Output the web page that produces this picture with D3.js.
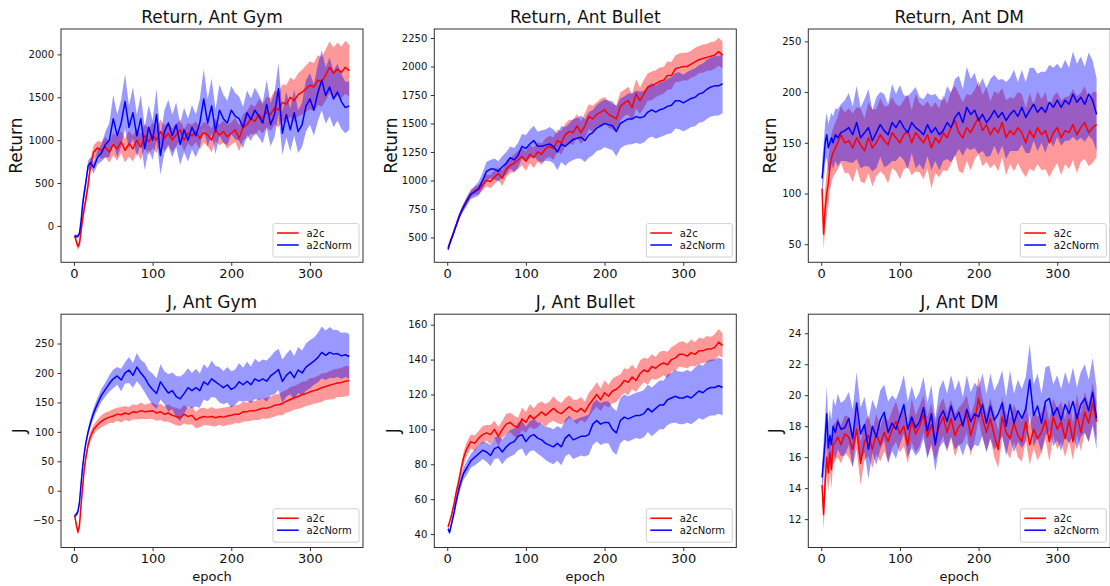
<!DOCTYPE html>
<html>
<head>
<meta charset="utf-8">
<script src="https://cdn.jsdelivr.net/npm/d3@7"></script>
<style>
body { margin: 0; background: #fff; }
text { font-family: "DejaVu Sans", sans-serif; fill: #111; }
</style>
</head>
<body>
<div id="chart"></div>
<script>
// epochs sampled from the curves (denser at the start where they move fast)
const epochs = [1, 3, 5, 7, 9, 11, 13, 15, 18, 21, 25].concat(d3.range(30, 351, 5));

const seriesNames = ["a2c", "a2cNorm"];
const titles = ["Return, Ant Gym", "Return, Ant Bullet", "Return, Ant DM", "J, Ant Gym", "J, Ant Bullet", "J, Ant DM"];
const yLabels = ["Return", "Return", "Return", "J", "J", "J"];
const xTicks = [0, 100, 200, 300];
const yTicks = [
    [0, 500, 1000, 1500, 2000],
    [500, 750, 1000, 1250, 1500, 1750, 2000, 2250],
    [50, 100, 150, 200, 250],
    [-50, 0, 50, 100, 150, 200, 250],
    [40, 60, 80, 100, 120, 140, 160],
    [12, 14, 16, 18, 20, 22, 24]
];

// Return, Ant Gym
const returnGymA2c = [-117, -180, -240, -210, -60, 80, 200, 300, 480, 700, 860,
    910, 880, 920, 860, 950, 900, 980, 880, 960, 900, 1000, 920, 1050, 980, 1060,
    1000, 1100, 1020, 1080, 1000, 1060, 1120, 1000, 1080, 1050, 1100, 1020, 1090, 1060, 1000, 1120, 1060, 1100, 1040, 1080,
    1120, 1020, 1150, 1180, 1250, 1220, 1300, 1250, 1330, 1300, 1380, 1350, 1440, 1420, 1500, 1460, 1530, 1560, 1600, 1640,
    1620, 1700, 1680, 1760, 1850, 1780, 1830, 1790, 1850, 1810];
const returnGymA2cSd = [25, 30, 40, 40, 50, 60, 70, 70, 80, 80, 80,
    80, 100, 120, 120, 130, 140, 130, 140, 150, 150, 140, 150, 140, 150, 150,
    150, 140, 150, 130, 140, 130, 120, 130, 120, 130, 120, 130, 120, 130, 140, 130, 120, 130, 140, 130,
    140, 150, 150, 160, 170, 170, 180, 170, 180, 190, 200, 200, 210, 220, 230, 240, 250, 260, 270, 280,
    280, 290, 290, 300, 300, 300, 310, 300, 310, 300];
const returnGymNorm = [-110, -125, -120, -90, 50, 250, 380, 500, 700, 740, 680,
    800, 850, 950, 1000, 1250, 1050, 1200, 1450, 1150, 1320, 1050, 1250, 900, 1150, 1000,
    1300, 820, 1100, 1200, 1050, 1180, 950, 1120, 1000, 1150, 1050, 1200, 1480, 1200, 1400, 1100, 1350, 1250, 1200, 1350,
    1280, 1250, 1150, 1320, 1240, 1350, 1280, 1200, 1420, 1180, 1300, 1600, 1080, 1300, 1120, 1320, 1100, 1180, 1400, 1480,
    1350, 1550, 1700, 1520, 1620, 1480, 1560, 1450, 1380, 1400];
const returnGymNormSd = [15, 20, 25, 30, 50, 70, 70, 60, 60, 60, 70,
    80, 100, 150, 200, 280, 250, 270, 320, 250, 300, 250, 280, 250, 260, 230,
    300, 220, 250, 270, 250, 260, 240, 260, 250, 260, 250, 280, 350, 280, 320, 260, 300, 280, 260, 280,
    270, 260, 240, 260, 250, 260, 250, 240, 280, 250, 260, 300, 250, 270, 250, 270, 250, 260, 300, 300,
    300, 330, 350, 330, 340, 330, 330, 320, 300, 280];

// Return, Ant Bullet
const returnBulletA2c = [410, 450, 490, 520, 560, 600, 640, 680, 730, 770, 820,
    880, 910, 920, 960, 1000, 990, 1030, 1060, 1020, 1100, 1130, 1150, 1180, 1210, 1170,
    1230, 1200, 1250, 1230, 1280, 1300, 1280, 1350, 1330, 1400, 1430, 1420, 1480, 1420, 1480, 1560, 1540, 1580, 1600, 1620,
    1580, 1560, 1540, 1650, 1680, 1700, 1640, 1760, 1700, 1760, 1820, 1830, 1850, 1870, 1880, 1920, 1920, 1980, 1990, 2000,
    2000, 2020, 2040, 2060, 2070, 2080, 2090, 2100, 2130, 2100];
const returnBulletA2cSd = [15, 15, 15, 20, 20, 20, 25, 25, 25, 30, 30,
    30, 38, 40, 48, 50, 58, 60, 55, 68, 70, 65, 78, 80, 75, 85,
    80, 90, 85, 95, 88, 92, 100, 95, 105, 98, 102, 110, 104, 100, 112, 108, 115, 106, 118, 112,
    118, 110, 120, 125, 115, 122, 118, 128, 116, 124, 120, 126, 118, 122, 116, 125, 120, 118, 124, 120,
    122, 118, 125, 120, 124, 118, 126, 120, 122, 120];
const returnBulletNorm = [395, 440, 480, 520, 560, 600, 640, 680, 730, 770, 820,
    880, 900, 930, 1000, 1080, 1100, 1100, 1080, 1120, 1150, 1200, 1180, 1220, 1300, 1280,
    1320, 1350, 1300, 1300, 1310, 1320, 1300, 1250, 1320, 1300, 1330, 1360, 1370, 1380, 1350, 1400, 1420, 1460, 1480, 1500,
    1490, 1480, 1430, 1500, 1520, 1540, 1540, 1560, 1550, 1560, 1600, 1620, 1600, 1620, 1630, 1650, 1660, 1700, 1700, 1680,
    1700, 1720, 1730, 1760, 1770, 1800, 1820, 1830, 1830, 1850];
const returnBulletNormSd = [15, 20, 20, 25, 25, 25, 30, 30, 30, 35, 40,
    40, 50, 62, 70, 85, 80, 92, 88, 95, 100, 98, 105, 110, 108, 120,
    125, 130, 128, 140, 138, 150, 148, 160, 158, 170, 168, 180, 178, 190, 188, 200, 198, 202, 210, 208,
    212, 215, 218, 220, 216, 224, 222, 228, 230, 226, 232, 235, 234, 240, 238, 242, 245, 244, 250, 248,
    252, 250, 255, 254, 256, 260, 258, 262, 260, 258];

// Return, Ant DM
const returnDmA2c = [105, 60, 85, 100, 110, 125, 135, 140, 145, 150, 158,
    150, 152, 145, 155, 148, 142, 155, 145, 150, 158, 152, 148, 160, 155, 150,
    158, 162, 150, 160, 155, 150, 158, 145, 155, 150, 160, 155, 165, 172, 160, 155, 165, 160, 168, 175,
    162, 168, 158, 165, 160, 170, 155, 162, 158, 165, 160, 150, 162, 155, 165, 158, 162, 150, 160, 165,
    155, 162, 160, 168, 158, 165, 170, 160, 165, 168];
const returnDmA2cSd = [10, 15, 20, 22, 22, 22, 24, 24, 25, 26, 28,
    30, 32, 34, 30, 36, 32, 35, 38, 33, 36, 34, 38, 35, 33, 36,
    34, 36, 32, 38, 34, 36, 33, 40, 35, 34, 37, 33, 36, 34, 38, 35, 33, 37, 34, 36,
    35, 37, 33, 36, 38, 34, 37, 33, 36, 35, 38, 34, 37, 33, 36, 35, 38, 34, 36, 35,
    37, 33, 36, 35, 38, 34, 36, 33, 35, 32];
const returnDmNorm = [115, 130, 150, 158, 145, 150, 155, 150, 158, 155, 160,
    162, 165, 158, 170, 155, 160, 165, 152, 160, 168, 162, 158, 170, 165, 172,
    165, 160, 170, 165, 162, 158, 168, 160, 165, 158, 162, 170, 165, 175, 180, 170, 185, 178, 182, 172,
    178, 170, 175, 182, 175, 180, 172, 178, 182, 176, 185, 175, 182, 188, 180, 185, 180, 190, 185, 192,
    185, 192, 188, 198, 190, 195, 188, 198, 192, 178];
const returnDmNormSd = [15, 18, 20, 22, 24, 24, 25, 26, 26, 28, 28,
    30, 34, 28, 36, 30, 33, 38, 30, 35, 32, 36, 30, 38, 33, 35,
    32, 36, 30, 40, 33, 35, 31, 37, 33, 35, 30, 36, 34, 38, 36, 33, 40, 35, 37, 33,
    36, 34, 38, 35, 37, 33, 38, 36, 40, 34, 37, 35, 42, 36, 38, 35, 40, 37, 39, 36,
    38, 40, 36, 42, 38, 40, 37, 41, 39, 36];

// J, Ant Gym
const jGymA2c = [-42, -58, -70, -60, -25, 5, 35, 55, 78, 92, 104,
    112, 118, 122, 125, 127, 130, 129, 132, 130, 134, 133, 136, 134, 135, 136,
    132, 134, 130, 132, 128, 126, 124, 130, 126, 128, 120, 124, 126, 125, 126, 124, 126, 125, 127, 128,
    130, 130, 134, 134, 136, 136, 138, 140, 140, 142, 145, 146, 148, 152, 155, 158, 160, 163, 165, 168,
    170, 172, 175, 177, 179, 181, 183, 184, 186, 187];
const jGymA2cSd = [4, 5, 6, 6, 6, 6, 6, 6, 7, 8, 8,
    9, 10, 11, 10, 12, 11, 13, 12, 12, 13, 12, 14, 12, 13, 14,
    13, 14, 13, 15, 14, 15, 14, 16, 14, 15, 14, 16, 15, 14, 16, 15, 14, 16, 15, 16,
    15, 16, 17, 16, 17, 16, 18, 17, 18, 18, 19, 18, 20, 19, 21, 20, 21, 22, 21, 23,
    22, 23, 24, 23, 24, 25, 24, 25, 26, 25];
const jGymNorm = [-43, -40, -36, -20, 10, 40, 62, 80, 100, 115, 132,
    148, 162, 172, 182, 190, 195, 188, 200, 205, 196, 210, 200, 192, 180, 172,
    165, 185, 175, 166, 170, 160, 156, 165, 175, 170, 175, 170, 185, 180, 190, 185, 180, 175, 180, 172,
    176, 185, 180, 186, 180, 190, 186, 190, 186, 195, 200, 206, 186, 196, 202, 192, 205, 200, 210, 215,
    220, 226, 235, 230, 235, 232, 233, 229, 231, 228];
const jGymNormSd = [3, 4, 5, 6, 6, 6, 6, 6, 7, 8, 9,
    10, 11, 12, 14, 16, 15, 19, 18, 22, 21, 24, 22, 25, 24, 27,
    26, 30, 28, 32, 31, 35, 38, 34, 33, 30, 32, 29, 30, 28, 31, 27, 30, 28, 30, 31,
    30, 32, 29, 33, 31, 34, 32, 33, 35, 33, 36, 35, 37, 36, 38, 37, 39, 38, 40, 41,
    40, 42, 44, 42, 43, 41, 40, 39, 38, 38];

// J, Ant Bullet
const jBulletA2c = [44, 47, 50, 54, 58, 63, 67, 71, 78, 84, 89,
    93, 92, 95, 97, 98, 97, 100, 96, 100, 103, 104, 102, 101, 106, 104,
    108, 106, 108, 110, 108, 110, 112, 110, 109, 111, 113, 111, 110, 112, 110, 114, 117, 120, 117, 121,
    119, 122, 123, 125, 128, 127, 130, 128, 132, 134, 133, 136, 135, 137, 138, 137, 140, 141, 143, 143,
    142, 144, 143, 145, 145, 146, 146, 147, 150, 148];
const jBulletA2cSd = [1, 1.5, 1.5, 2, 2, 2.5, 2.5, 3, 3, 3.5, 4,
    4, 4.5, 4, 5, 4.5, 5.5, 5, 5.5, 5, 6, 5.5, 6, 5.5, 6.5, 6,
    6.5, 6, 7, 6, 6.5, 6, 7, 6.5, 6, 7, 6.5, 6, 7, 6.5, 6, 7, 6.5, 7, 6.5, 7,
    6.5, 7, 7.5, 6.5, 7, 7.5, 7, 6.5, 7.5, 7, 7.5, 7, 6.5, 7.5, 7, 7.5, 7, 7.5, 7, 7.5,
    7, 7.5, 7, 7.5, 7, 7.5, 7, 7.5, 7.5, 7];
const jBulletNorm = [43, 41, 45, 49, 53, 58, 62, 66, 71, 75, 78,
    82, 84, 86, 88, 87, 85, 89, 90, 87, 90, 92, 93, 96, 97, 93,
    96, 97, 95, 94, 92, 91, 90, 92, 90, 95, 97, 94, 95, 96, 96, 97, 103, 105, 103, 104,
    104, 100, 98, 105, 107, 106, 107, 108, 108, 109, 112, 110, 112, 114, 114, 117, 118, 119, 118, 118,
    119, 118, 120, 122, 121, 123, 124, 124, 125, 124];
const jBulletNormSd = [1, 1.5, 2, 2, 2.5, 3, 3, 3, 3.5, 3.5, 4,
    4, 4.5, 5, 5, 5.5, 6, 6, 6.5, 7, 7, 7.5, 7.5, 8, 8, 8.5,
    8.5, 9, 9, 9.5, 9.5, 10, 10, 10, 10.5, 10.5, 11, 11, 11, 11, 11.5, 11.5, 12, 12, 12, 12,
    12, 12.5, 12.5, 13, 13, 13, 13, 13, 13.5, 13.5, 13.5, 14, 14, 14, 14, 14.5, 14.5, 15, 15, 15,
    15, 15, 15.5, 15.5, 15.5, 16, 16, 16, 16, 16];

// J, Ant DM
const jDmA2c = [14.2, 12.3, 14.5, 16.0, 15.0, 16.3, 15.2, 16.8, 17.0, 17.3, 16.8,
    17.5, 17.3, 16.5, 17.8, 15.6, 17.0, 17.4, 16.5, 17.5, 16.8, 17.6, 17.0, 17.8, 18.3, 17.5,
    18.0, 16.8, 18.4, 17.5, 18.0, 18.8, 17.3, 18.1, 17.0, 18.0, 18.6, 17.6, 18.5, 17.4, 18.0, 18.2, 18.8, 17.4, 18.3, 19.8,
    18.5, 17.6, 18.5, 17.4, 16.5, 18.6, 17.6, 17.2, 18.2, 17.4, 17.0, 18.3, 16.8, 17.8, 17.2, 17.6, 18.4, 17.0, 18.6, 17.8,
    18.3, 17.2, 18.4, 17.0, 18.8, 17.6, 18.9, 18.2, 19.5, 18.3];
const jDmA2cSd = [0.6, 1.0, 1.2, 1.3, 1.2, 1.3, 1.2, 1.3, 1.2, 1.3, 1.2,
    1.2, 1.3, 1.1, 1.3, 1.4, 1.2, 1.3, 1.2, 1.3, 1.1, 1.2, 1.3, 1.2, 1.3, 1.2,
    1.3, 1.2, 1.4, 1.2, 1.3, 1.2, 1.3, 1.4, 1.2, 1.3, 1.2, 1.3, 1.2, 1.4, 1.2, 1.3, 1.2, 1.3, 1.2, 1.4,
    1.3, 1.2, 1.3, 1.4, 1.2, 1.3, 1.2, 1.3, 1.2, 1.4, 1.3, 1.2, 1.3, 1.2, 1.4, 1.3, 1.2, 1.3, 1.2, 1.3,
    1.3, 1.2, 1.4, 1.2, 1.3, 1.2, 1.3, 1.2, 1.3, 1.2];
const jDmNorm = [14.7, 15.8, 17.1, 18.8, 16.6, 17.4, 16.8, 18.0, 17.6, 18.3, 17.8,
    17.9, 18.5, 17.2, 19.5, 17.5, 18.1, 16.5, 18.0, 17.3, 18.4, 18.9, 17.6, 18.2, 17.8, 18.6,
    19.4, 17.8, 18.6, 17.9, 18.3, 19.2, 17.7, 18.8, 16.8, 18.5, 19.0, 18.3, 19.3, 18.4, 18.9, 18.0, 19.1, 18.3, 18.8, 18.6,
    19.4, 18.2, 19.3, 18.4, 18.8, 19.5, 18.0, 19.4, 18.2, 19.0, 18.5, 19.1, 21.0, 18.7, 19.3, 18.2, 19.6, 19.8, 18.7, 19.2,
    18.4, 19.4, 18.8, 19.6, 18.5, 19.4, 19.8, 19.0, 20.2, 18.5];
const jDmNormSd = [0.8, 1.2, 1.5, 1.8, 1.6, 1.7, 1.6, 1.8, 1.7, 1.8, 1.7,
    1.8, 1.7, 1.9, 2.0, 1.7, 1.8, 1.9, 1.7, 1.8, 1.9, 1.8, 2.0, 1.8, 1.9, 1.8,
    1.9, 1.8, 2.0, 1.8, 1.9, 2.0, 1.8, 1.9, 1.7, 1.9, 2.0, 1.8, 2.0, 1.9, 2.1, 1.9, 2.2, 1.9, 2.0, 1.9,
    2.0, 1.9, 2.1, 1.9, 2.0, 2.1, 1.9, 2.2, 1.9, 2.0, 1.9, 2.1, 2.3, 2.0, 2.1, 1.9, 2.2, 2.1, 2.0, 2.1,
    2.0, 2.1, 1.9, 2.2, 2.0, 2.1, 2.2, 2.0, 2.2, 2.0];

// table built from the arrays above
const panelData = [
    [[returnGymA2c, returnGymA2cSd], [returnGymNorm, returnGymNormSd]],
    [[returnBulletA2c, returnBulletA2cSd], [returnBulletNorm, returnBulletNormSd]],
    [[returnDmA2c, returnDmA2cSd], [returnDmNorm, returnDmNormSd]],
    [[jGymA2c, jGymA2cSd], [jGymNorm, jGymNormSd]],
    [[jBulletA2c, jBulletA2cSd], [jBulletNorm, jBulletNormSd]],
    [[jDmA2c, jDmA2cSd], [jDmNorm, jDmNormSd]]
];

// layout (matches the matplotlib subplots)
const width = 1110, height = 586;
const colLeft = [61, 434.3, 808.3], rowTop = [29, 314.2];
const plotW = 302, plotH = 233.3;
const xDomain = [-16.45, 367.45];
const yDomains = [[-424, 2296], [282, 2329], [32.2, 262.2], [-96.4, 299.8], [32.3, 166], [10.17, 25.23]];
const yLabelOffset = [39, 37.6, 32.3, 35.7, 35, 27.3];
const colors = ["#ff0000", "#0000ff"];
const tickFmt = d3.format("d");

const svg = d3.select("#chart").append("svg")
    .attr("width", width)
    .attr("height", height);

panelData.forEach((series, i) => {
    const left = colLeft[i % 3], top = rowTop[Math.floor(i / 3)];

    let x = d3.scaleLinear().domain(xDomain).range([left, left + plotW]);
    let y = d3.scaleLinear().domain(yDomains[i]).range([top + plotH, top]);

    svg.append("clipPath").attr("id", "clip" + i)
        .append("rect")
        .attr("x", left).attr("y", top)
        .attr("width", plotW).attr("height", plotH);

    const g = svg.append("g").attr("clip-path", `url(#clip${i})`);

    // shaded bands first, lines on top
    series.forEach(([mean, sd], k) => {
        const area = d3.area()
            .x((d, j) => x(epochs[j]))
            .y0((d, j) => y(mean[j] - sd[j]))
            .y1((d, j) => y(mean[j] + sd[j]));
        g.append("path")
            .datum(mean)
            .attr("d", area)
            .attr("fill", colors[k])
            .attr("fill-opacity", 0.4);
    });
    series.forEach(([mean], k) => {
        const line = d3.line()
            .x((d, j) => x(epochs[j]))
            .y(d => y(d));
        g.append("path")
            .datum(mean)
            .attr("d", line)
            .attr("fill", "none")
            .attr("stroke", colors[k])
            .attr("stroke-width", 1.5)
            .attr("stroke-linejoin", "round");
    });

    // axes
    const xAxis = svg.append("g")
        .attr("transform", `translate(0,${top + plotH})`)
        .call(d3.axisBottom(x).tickValues(xTicks).tickFormat(tickFmt)
            .tickSize(3.5).tickPadding(3).tickSizeOuter(0));
    xAxis.select(".domain").remove();
    xAxis.selectAll("text").attr("font-size", 13).attr("font-family", "DejaVu Sans").style("fill", "#111");
    xAxis.selectAll("line").attr("stroke", "#333");

    const yAxis = svg.append("g")
        .attr("transform", `translate(${left},0)`)
        .call(d3.axisLeft(y).tickValues(yTicks[i]).tickFormat(tickFmt)
            .tickSize(3.5).tickPadding(3.5).tickSizeOuter(0));
    yAxis.select(".domain").remove();
    yAxis.selectAll("text").attr("font-size", 10).attr("font-family", "DejaVu Sans").style("fill", "#111");
    yAxis.selectAll("line").attr("stroke", "#333");

    svg.append("rect")
        .attr("x", left).attr("y", top)
        .attr("width", plotW).attr("height", plotH)
        .attr("fill", "none")
        .attr("stroke", "#333")
        .attr("stroke-width", 1);

    // titles and labels
    svg.append("text")
        .attr("x", left + plotW / 2)
        .attr("y", top - 6)
        .attr("text-anchor", "middle")
        .attr("font-size", 17)
        .text(titles[i]);

    svg.append("text")
        .attr("transform", `translate(${left - yLabelOffset[i]},${top + plotH / 2}) rotate(-90)`)
        .attr("text-anchor", "middle")
        .attr("font-size", 17)
        .text(yLabels[i]);

    if (i >= 3) {
        svg.append("text")
            .attr("x", left + plotW / 2)
            .attr("y", 581)
            .attr("text-anchor", "middle")
            .attr("font-size", 13)
            .text("epoch");
    }

    // legend
    const lw = 86, lh = 33.4;
    const lx = left + plotW - 4 - lw, ly = top + plotH - 5.3 - lh;
    const legend = svg.append("g");
    legend.append("rect")
        .attr("x", lx).attr("y", ly)
        .attr("width", lw).attr("height", lh)
        .attr("rx", 2)
        .attr("fill", "#fff").attr("fill-opacity", 0.8)
        .attr("stroke", "#d0d0d0");
    seriesNames.forEach((name, k) => {
        const ry = ly + 9.4 + k * 12;
        legend.append("line")
            .attr("x1", lx + 4).attr("x2", lx + 25.7)
            .attr("y1", ry).attr("y2", ry)
            .attr("stroke", colors[k])
            .attr("stroke-width", 1.5);
        legend.append("text")
            .attr("x", lx + 33.4)
            .attr("y", ry)
            .attr("dy", "0.35em")
            .attr("font-size", 10)
            .text(name);
    });
});
</script>
</body>
</html>
